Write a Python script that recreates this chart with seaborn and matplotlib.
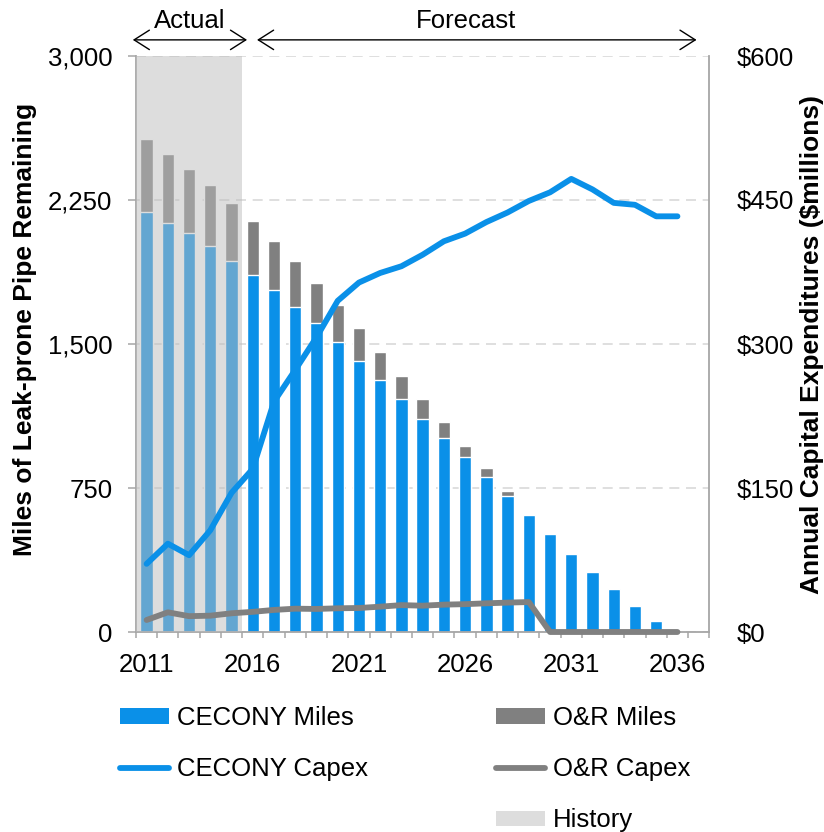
import numpy as np
import pandas as pd
import matplotlib
matplotlib.use("Agg")
import matplotlib.pyplot as plt
import matplotlib.transforms as mtransforms
from matplotlib.patches import Patch, ArrowStyle
from matplotlib.lines import Line2D
import seaborn as sns

# ---- data -------------------------------------------------------------
years = list(range(2011, 2037))
cecony_miles = [2186, 2128, 2076, 2009, 1934, 1861, 1779, 1694, 1608, 1510,
                1410, 1310, 1211, 1109, 1010, 909, 809, 710, 608, 509,
                408, 313, 222, 137, 57, 0]
or_miles = [380, 363, 337, 319, 302, 280, 257, 238, 210, 191,
            172, 148, 124, 105, 82, 61, 45, 23, 0, 0,
            0, 0, 0, 0, 0, 0]
cecony_capex = [71, 92, 80, 106, 145, 170, 240, 273, 307, 345,
                364, 374, 381, 393, 407, 415, 427, 437, 449, 458,
                472, 461, 447, 445, 433, 433]
or_capex = [12.5, 20.5, 16.5, 17, 19.5, 21, 23, 24.3, 24, 24.7,
            25, 26.4, 28, 27.4, 28.5, 29, 29.9, 30.6, 31.2, 0,
            0, 0, 0, 0, 0, 0]
n_history = 5            # 2011-2015 are actuals
left_ticks = [0, 750, 1500, 2250, 3000]
right_ticks = [0, 150, 300, 450, 600]

BLUE = "#0A90E8"
GRAY = "#808080"
SHADE = "#BCBCBC"
AXIS_GRAY = "#A6A6A6"

df = pd.DataFrame({
    "year": [str(y) for y in years],
    "cecony": cecony_miles,
    "or": or_miles,
    "total": np.array(cecony_miles) + np.array(or_miles),
    "cecony_capex": cecony_capex,
    "or_capex": or_capex,
})
df["pos"] = np.arange(len(df))

sns.set_style("white")
plt.rcParams["font.family"] = ["Liberation Sans", "DejaVu Sans"]
plt.rcParams.update({"text.color": "black", "axes.labelcolor": "black",
                     "xtick.color": "black", "ytick.color": "black"})
FS = 18.5

fig = plt.figure(figsize=(8.24, 8.32), dpi=100)
ax = fig.add_axes([136 / 824, 1 - 632 / 832, 573.3 / 824, 576 / 832])

# stacked bars: full height in grey, CECONY part on top in blue
sns.barplot(data=df, x="year", y="total", color=GRAY, saturation=1,
            width=0.58, edgecolor="white", linewidth=1.0, ax=ax, zorder=2)
sns.barplot(data=df, x="year", y="cecony", color=BLUE, saturation=1,
            width=0.58, edgecolor="white", linewidth=1.0, ax=ax, zorder=2)

n_slots = len(years) + 1
ax.set_xlim(-0.5, n_slots - 0.5)
ax.set_ylim(0, 3000)

# translucent band over the historical years
ax.axvspan(-0.5, n_history - 0.5, color=SHADE, alpha=0.5, lw=0, zorder=3)

# gridlines
ax.set_axisbelow(True)
ax.yaxis.grid(True, color="#D9D9D9", linewidth=1.2, linestyle=(0, (6, 4)))
ax.set_yticks(left_ticks)
ax.set_yticklabels([f"{v:,}" for v in left_ticks], fontsize=FS)
ax.tick_params(axis="y", left=True, length=6, width=1.1, color=AXIS_GRAY,
               labelcolor="black", pad=11, labelsize=FS)

major = list(range(0, len(years), 5))
ax.set_xticks(major)
ax.set_xticklabels([str(years[i]) for i in major], fontsize=FS)
ax.set_xticks(np.arange(-0.5, n_slots, 1), minor=True)
ax.tick_params(axis="x", which="major", length=0, pad=15, labelsize=FS,
               labelcolor="black")
ax.tick_params(axis="x", which="minor", bottom=True, length=4, width=1.1,
               color=AXIS_GRAY)
ax.set_xlabel("")
ax.set_ylabel("Miles of Leak-prone Pipe Remaining", fontsize=19,
              fontweight="bold", color="black")
ax.yaxis.set_label_coords(-0.172, 0.525)

for s in ["top", "right"]:
    ax.spines[s].set_visible(False)
for s in ["left", "bottom"]:
    ax.spines[s].set_color(AXIS_GRAY)
    ax.spines[s].set_linewidth(1.3)

# capex lines on the secondary axis
ax2 = ax.twinx()
sns.lineplot(data=df, x="pos", y="cecony_capex", color=BLUE, linewidth=4.2,
             ax=ax2, clip_on=False, solid_capstyle="round",
             solid_joinstyle="round", zorder=5)
sns.lineplot(data=df, x="pos", y="or_capex", color=GRAY, linewidth=4.2,
             ax=ax2, clip_on=False, solid_capstyle="round",
             solid_joinstyle="round", zorder=5)
ax2.set_ylim(0, 600)
ax2.set_xlim(-0.5, n_slots - 0.5)
ax2.set_yticks(right_ticks)
ax2.set_yticklabels([f"${v}" for v in right_ticks], fontsize=FS)
ax2.tick_params(axis="y", right=True, length=0, pad=20, labelsize=FS,
                labelcolor="black")
ax2.set_xlabel("")
ax2.set_ylabel("Annual Capital Expenditures ($millions)", fontsize=19,
               fontweight="bold", color="black")
ax2.yaxis.set_label_coords(1.158, 0.5)
for s in ["top", "left", "bottom"]:
    ax2.spines[s].set_visible(False)
ax2.spines["right"].set_color(AXIS_GRAY)
ax2.spines["right"].set_linewidth(1.3)
if ax2.get_legend() is not None:
    ax2.get_legend().remove()

# Actual / Forecast span markers above the plot
trans = mtransforms.blended_transform_factory(ax.transData, ax.transAxes)
arrow = dict(arrowstyle=ArrowStyle("<->", head_length=0.55, head_width=0.35),
             color="black", lw=1.0, mutation_scale=20, shrinkA=0, shrinkB=0)
y_arrow = 1.028
spans = [("Actual", -0.65, n_history - 0.27),
         ("Forecast", n_history + 0.2, len(years) - 0.1)]
for label, x0, x1 in spans:
    ax.annotate("", xy=(x0, y_arrow), xytext=(x1, y_arrow), xycoords=trans,
                textcoords=trans, arrowprops=arrow, annotation_clip=False)
ax.text(spans[0][1] / 2 + spans[0][2] / 2, 1.061, "Actual", transform=trans,
        ha="center", va="center", fontsize=FS, color="black")
ax.text(15.05, 1.061, "Forecast", transform=trans,
        ha="center", va="center", fontsize=FS, color="black")

# legend laid out in two columns
handles = [
    Patch(facecolor=BLUE, edgecolor="none"),
    Line2D([], [], color=BLUE, lw=4.2, solid_capstyle="round"),
    Patch(facecolor="none", edgecolor="none"),
    Patch(facecolor=GRAY, edgecolor="none"),
    Line2D([], [], color=GRAY, lw=4.2, solid_capstyle="round"),
    Patch(facecolor="#DDDDDD", edgecolor="none"),
]
labels = ["CECONY Miles", "CECONY Capex", "", "O&R Miles", "O&R Capex",
          "History"]
leg = fig.legend(handles, labels, ncol=2, loc="upper left",
                 bbox_to_anchor=(120 / 824, 1 - 706 / 832), frameon=False,
                 fontsize=FS, handlelength=1.9, handleheight=0.55,
                 handletextpad=0.3, columnspacing=5.0, labelspacing=1.06,
                 borderpad=0, borderaxespad=0)
for t in leg.get_texts():
    t.set_color("black")

fig.savefig("out.png", dpi=100)
